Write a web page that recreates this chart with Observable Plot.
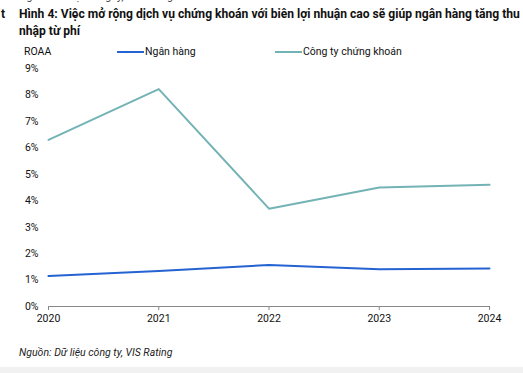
<!DOCTYPE html>
<html>
<head>
<meta charset="utf-8">
<script src="https://cdn.jsdelivr.net/npm/d3@7"></script>
<script src="https://cdn.jsdelivr.net/npm/@observablehq/plot@0.6"></script>
<style>
  html, body { margin: 0; padding: 0; background: #fff; }
  body { width: 523px; height: 373px; position: relative; overflow: hidden; font-family: Roboto, "Noto Sans", sans-serif; color: #111; }
  .abs { position: absolute; white-space: nowrap; }
  #top { left: 20px; top: -10px; font-size: 10.5px; font-style: italic; color: #333; }
  #t { left: 1px; top: 6px; font-size: 12.1px; font-weight: bold; line-height: 17px; }
  #title { left: 19px; top: 6px; font-size: 12.1px; font-weight: bold; line-height: 17px; }
  #roaa { left: 24px; top: 45px; font-size: 10.5px; }
  .leg { top: 45px; font-size: 10.5px; display: flex; align-items: center; }
  .leg span.sw { display: inline-block; width: 27px; height: 2px; margin-right: 1px; }
  #foot { left: 19px; top: 346px; font-size: 10.5px; font-style: italic; color: #222; }
  #chart { position: absolute; left: 0; top: 0; }
  #bottomline { position: absolute; left: 0; top: 367px; width: 523px; height: 6px; background: #f1f1f1; }
</style>
</head>
<body>
<div id="chart"></div>
<div class="abs" id="top">Nguồn: Dữ liệu công ty, VIS Rating</div>
<div class="abs" id="t">t</div>
<div class="abs" id="title">Hình 4: Việc mở rộng dịch vụ chứng khoán với biên lợi nhuận cao sẽ giúp ngân hàng tăng thu<br>nhập từ phí</div>
<div class="abs" id="roaa">ROAA</div>
<div class="abs leg" id="leg1" style="left:117px"><span class="sw" style="background:#2463d1"></span>Ngân hàng</div>
<div class="abs leg" id="leg2" style="left:275px"><span class="sw" style="background:#74b3b5"></span>Công ty chứng khoán</div>
<div class="abs" id="foot">Nguồn: Dữ liệu công ty, VIS Rating</div>
<div id="bottomline"></div>
<script>
const years = [2020, 2021, 2022, 2023, 2024];
const seriesNames = ["Ngân hàng", "Công ty chứng khoán"];
const nganHang = [1.15, 1.34, 1.57, 1.41, 1.44];
const congTyCK = [6.3, 8.22, 3.7, 4.5, 4.6];
const colors = ["#2463d1", "#74b3b5"];
const yTicks = [0, 1, 2, 3, 4, 5, 6, 7, 8, 9];

const data = [];
years.forEach((y, i) => {
  data.push({year: y, value: nganHang[i], series: seriesNames[0]});
  data.push({year: y, value: congTyCK[i], series: seriesNames[1]});
});

const plot = Plot.plot({
  width: 523,
  height: 340,
  marginTop: 68,
  marginBottom: 34,
  marginLeft: 48,
  marginRight: 34,
  style: {fontFamily: "Roboto, 'Noto Sans', sans-serif", fontSize: "10.5px", color: "#111", background: "transparent"},
  x: {domain: [2020, 2024], ticks: years, tickFormat: d => String(d), label: null},
  y: {domain: [0, 9], ticks: yTicks, tickFormat: d => d + "%", label: null},
  color: {domain: seriesNames, range: colors},
  marks: [
    Plot.axisY({ticks: yTicks, tickFormat: d => d + "%", tickSize: 0, tickPadding: 10, label: null, fontSize: 10.5}),
    Plot.axisX({ticks: years, tickFormat: d => String(d), tickSize: 4, tickPadding: 4, label: null, stroke: "#888", fontSize: 10.5}),
    Plot.ruleY([0], {stroke: "#888", strokeWidth: 1}),
    Plot.line(data, {x: "year", y: "value", z: "series", stroke: "series", strokeWidth: 2})
  ]
});
document.getElementById("chart").appendChild(plot);
</script>
</body>
</html>
